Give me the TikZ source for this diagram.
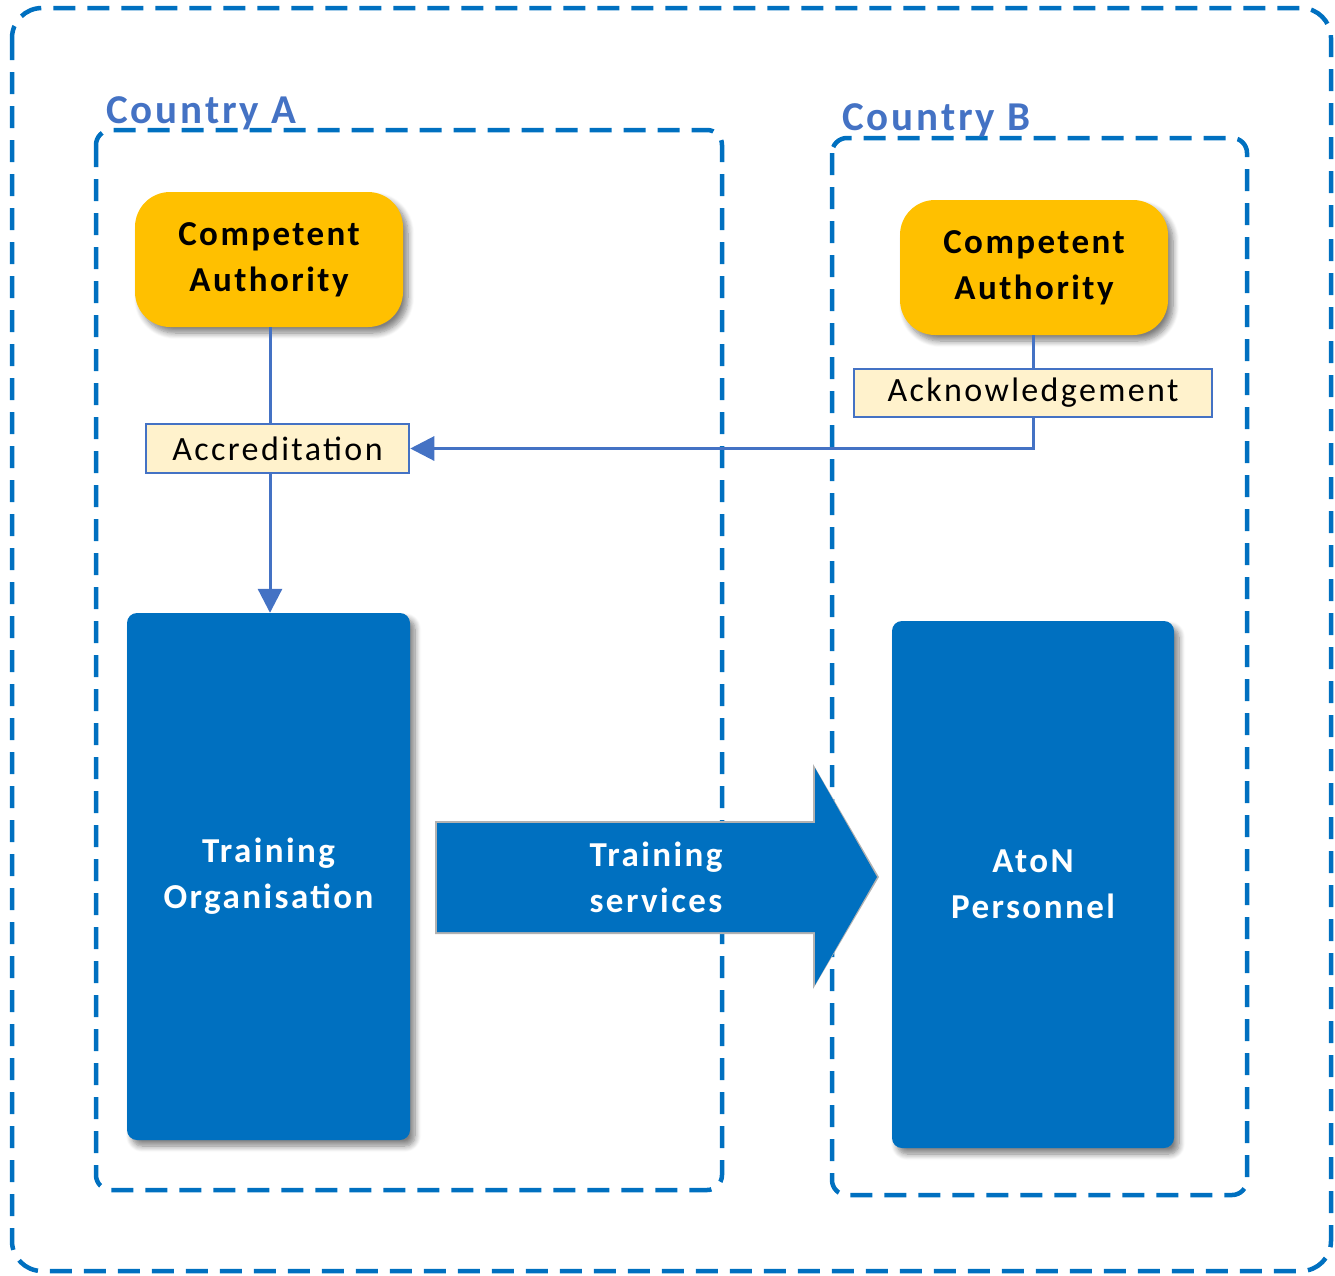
\documentclass[tikz,border=0pt]{standalone}
\usepackage{fontspec}
\setmainfont[LetterSpace=7]{Carlito}
\usetikzlibrary{shadows.blur,arrows.meta}
\definecolor{mblue}{HTML}{0070C0}
\definecolor{lblue}{HTML}{4472C4}
\definecolor{gold}{HTML}{FFC000}
\definecolor{cream}{HTML}{FFF2CC}
\tikzset{
  region/.style={draw=mblue, line width=4.5pt, dash pattern=on 22pt off 12pt},
  regionlabel/.style={text=lblue, font=\bfseries\fontsize{41}{46}\selectfont, anchor=base west, inner sep=0pt},
  authority/.style={fill=gold, rounded corners=35pt, minimum width=268pt, minimum height=135pt,
    align=center, font=\bfseries\fontsize{35}{46}\selectfont, inner sep=0pt,
    blur shadow={shadow xshift=5pt, shadow yshift=-6pt, shadow blur steps=8, shadow blur radius=6pt, shadow opacity=50}},
  tag/.style={draw=lblue, fill=cream, line width=2.5pt, font=\fontsize{34}{40}\selectfont, inner sep=0pt},
  unit/.style={fill=mblue, rounded corners=10pt, text=white, align=center,
    font=\bfseries\fontsize{35}{46}\selectfont, inner sep=0pt,
    blur shadow={shadow xshift=5pt, shadow yshift=-6pt, shadow blur steps=8, shadow blur radius=6pt, shadow opacity=50}},
  conn/.style={draw=lblue, line width=3pt},
  tip/.style={-{Triangle[length=24pt,width=24pt]}},
}
\begin{document}
\begin{tikzpicture}[x=1pt,y=-1pt]
\useasboundingbox (0,0) rectangle (1335,1275);
% outer frame
\draw[region, rounded corners=30pt] (12,8) rectangle (1331,1271);
% countries
\draw[region, rounded corners=15pt] (96,130) rectangle (722,1190);
\draw[region, rounded corners=15pt] (832,138) rectangle (1247,1195);
\node[regionlabel] (lblA) at (106,123) {Country A};
\node[regionlabel] (lblB) at (842,130) {Country B};
% nodes
\node[authority] (caA) at (269,259.5) {Competent\\Authority};
\node[authority] (caB) at (1034,267.5) {Competent\\Authority};
\node[tag, minimum width=263pt, minimum height=49pt] (acc) at (277.5,448.5) {Accreditation};
\node[tag, minimum width=358pt, minimum height=48pt] (ack) at (1033,393) {Acknowledgement};
\node[unit, minimum width=283pt, minimum height=527pt] (to) at (268.5,876.5) {Training\\Organisation};
\node[unit, minimum width=282pt, minimum height=527pt] (ap) at (1033,884.5) {AtoN\\Personnel};
% connectors
\draw[conn] (caA.south -| 270,0) -- (270,0 |- acc.north);
\draw[conn, tip] (270,0 |- acc.south) -- (270,0 |- to.north);
\draw[conn] (ack.north |- caB.south) -- (ack.north);
\draw[conn, tip] (ack.south) |- (acc.east);
% big arrow
\coordinate (a1) at (437,823);
\coordinate (a2) at (815,823);
\coordinate (a3) at (815,768);
\coordinate (a4) at (877,877);
\coordinate (a5) at (815,985);
\coordinate (a6) at (815,932);
\coordinate (a7) at (437,932);
\fill[black!30] ([shift={(-2,-2)}]a1) -- ([shift={(-2,-2)}]a2) -- ([shift={(-2,-4)}]a3) -- ([shift={(2,0)}]a4) -- ([shift={(-2,4)}]a5) -- ([shift={(-2,2)}]a6) -- ([shift={(-2,2)}]a7) -- cycle;
\fill[mblue] (a1) -- (a2) -- (a3) -- (a4) -- (a5) -- (a6) -- (a7) -- cycle;
\node[text=white, align=center, font=\bfseries\fontsize{35}{46}\selectfont, inner sep=0pt] (ts) at (656,877) {Training\\services};
\end{tikzpicture}
\end{document}
